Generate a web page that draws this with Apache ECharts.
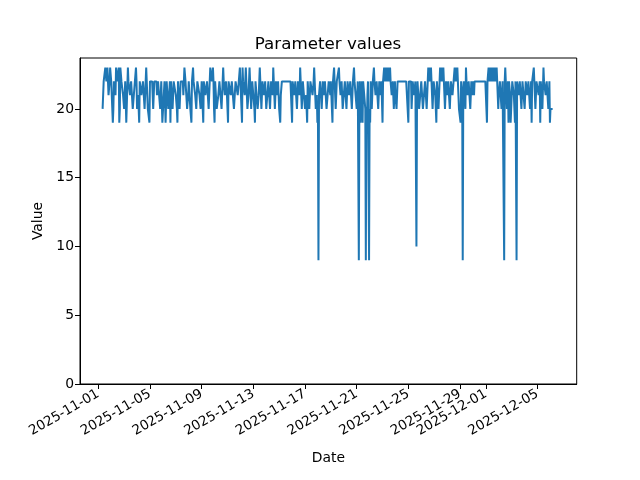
<!DOCTYPE html>
<html>
<head>
<meta charset="utf-8">
<script src="https://cdn.jsdelivr.net/npm/echarts@6/dist/echarts.min.js"></script>
<style>html,body{margin:0;padding:0;background:#fff}#c{width:640px;height:480px}</style>
</head>
<body>
<div id="c"></div>
<script>
// Series start and sampling step (hourly readings)
const startTime = new Date(2025, 10, 1, 8, 0, 0).getTime();
const stepHours = 1;

// Hourly values per day (day00 starts 08:00, day35 ends 05:00)
const day00 = [20,20,22,22,22,23,23,22,22,23,23,21,21,22,23,23];
const day01 = [22,22,20,19,20,22,22,22,21,23,23,23,22,22,23,19,20,23,23,22,22,22,21,21];
const day02 = [20,20,22,22,19,19,19,23,22,22,22,21,21,22,22,22,20,20,21,21,22,22,23,22];
const day03 = [20,20,21,21,19,22,22,22,21,21,21,22,22,22,20,20,22,23,22,22,20,20,20,19];
const day04 = [22,22,22,22,22,22,20,20,22,22,22,22,22,21,21,22,22,22,22,20,20,22,22,19];
const day05 = [19,19,19,22,22,19,19,22,22,22,20,20,20,22,19,22,22,22,20,20,22,22,22,22];
const day06 = [21,21,20,19,22,22,22,20,20,22,22,22,22,22,21,21,23,23,22,22,22,20,20,21];
const day07 = [22,22,22,20,20,19,22,22,23,22,22,22,21,21,20,20,22,22,22,22,21,21,20,20];
const day08 = [22,22,20,19,22,22,22,21,21,21,22,22,22,20,20,22,23,23,23,22,22,23,22,20];
const day09 = [19,22,22,22,20,20,20,21,21,22,22,22,22,20,20,20,23,22,22,21,21,22,22,21];
const day10 = [20,19,22,22,22,22,21,21,22,22,22,22,20,20,20,22,22,22,22,21,21,22,22,23];
const day11 = [22,22,20,19,23,22,22,22,21,21,23,22,22,20,20,21,22,23,22,22,20,20,22,22];
const day12 = [21,21,20,19,22,22,22,22,20,20,21,22,23,22,22,20,20,22,22,22,21,21,22,22];
const day13 = [20,20,21,21,22,22,22,20,20,22,22,22,21,23,22,22,20,20,22,22,21,21,22,22];
const day14 = [20,20,19,21,21,22,22,22,22,22,22,22,22,22,22,22,22,22,22,22,22,22,22,20];
const day15 = [19,22,22,22,21,21,22,22,22,20,20,22,22,22,21,23,22,22,20,20,22,22,22,22];
const day16 = [20,20,21,21,19,22,22,22,20,20,22,22,22,22,21,21,22,23,22,22,20,20,21,19];
const day17 = [20,9,21,21,22,22,22,20,20,22,22,21,21,22,22,22,20,20,21,21,22,22,22,21];
const day18 = [22,22,20,19,22,22,23,22,22,20,20,22,22,22,22,23,22,22,21,21,22,22,20,20];
const day19 = [21,21,22,22,22,20,20,22,22,22,21,21,22,22,22,20,20,22,22,23,22,22,21,21];
const day20 = [20,20,22,22,9,20,22,19,20,20,22,19,22,22,21,21,20,9,20,19,21,22,22,9];
const day21 = [20,19,22,22,20,20,22,22,23,22,22,21,21,22,22,22,20,20,22,22,21,21,22,22];
const day22 = [19,22,22,23,22,23,22,22,23,22,22,23,22,22,23,22,22,21,21,22,22,20,20,22];
const day23 = [21,21,20,20,22,22,22,22,22,22,22,22,22,22,22,22,22,22,22,22,22,22,22,22];
const day24 = [19,22,22,22,22,22,20,20,22,22,22,21,21,22,22,10,20,22,22,22,20,20,21,21];
const day25 = [22,22,22,20,20,21,21,22,22,22,20,20,22,23,22,23,22,22,23,22,22,20,20,22];
const day26 = [22,22,21,21,19,22,22,22,20,20,22,23,22,22,23,22,22,23,22,22,20,20,22,22];
const day27 = [21,21,22,22,22,20,20,22,22,22,21,21,22,22,23,22,23,22,22,23,22,22,20,20];
const day28 = [20,19,22,22,21,9,21,22,22,22,20,23,22,22,21,21,22,22,22,20,20,22,22,21];
const day29 = [22,22,21,22,22,22,22,22,22,22,22,22,22,22,22,22,22,22,22,22,22,22,22,22];
const day30 = [22,22,19,22,22,23,22,23,23,22,23,23,22,23,22,23,23,22,23,22,23,22,22,20];
const day31 = [21,21,22,22,22,20,20,22,22,22,9,22,23,22,22,20,20,22,19,22,22,21,19,19];
const day32 = [19,22,22,22,21,21,19,22,22,9,22,22,22,21,21,22,22,22,20,20,22,22,21,21];
const day33 = [20,20,22,22,22,21,21,22,22,22,20,20,22,19,22,22,22,23,22,22,20,20,22,22];
const day34 = [22,22,21,21,22,19,22,22,22,20,20,23,22,22,22,21,21,22,22,22,20,20,22,19];
const day35 = [20,20,20,20,20,20];

const values = [].concat(day00,day01,day02,day03,day04,day05,day06,day07,day08,day09,
  day10,day11,day12,day13,day14,day15,day16,day17,day18,day19,day20,day21,day22,day23,
  day24,day25,day26,day27,day28,day29,day30,day31,day32,day33,day34,day35);

// Tick labels
const xTickLabels = ['2025-11-01','2025-11-05','2025-11-09','2025-11-13','2025-11-17',
  '2025-11-21','2025-11-25','2025-11-29','2025-12-01','2025-12-05'];
const yTicks = [0,5,10,15,20];

function parseDay(s){const p=s.split('-').map(Number);return new Date(p[0],p[1]-1,p[2]).getTime();}
const xTicks = xTickLabels.map(parseDay);
const DAY = 86400000;
const origin = parseDay('2025-11-01');
const xMin = origin - 1.416*DAY;
const xMax = origin + 37.03*DAY;

const data = values.map((v,i)=>[startTime + i*stepHours*3600000, v]);

function fmt(t){const d=new Date(t);const m=d.getMonth()+1, dd=d.getDate();
  return d.getFullYear()+'-'+(m<10?'0':'')+m+'-'+(dd<10?'0':'')+dd;}

const font = 'DejaVu Sans';
const chart = echarts.init(document.getElementById('c'), null, {renderer:'canvas'});
chart.setOption({
  animation:false,
  backgroundColor:'#fff',
  title:{text:'Parameter values', left:323, top:31, textAlign:'center',
    textStyle:{fontFamily:font, fontSize:16.7, fontWeight:'normal', color:'#000'}},
  grid:{left:80, right:63.3, top:58, bottom:96, show:true, borderColor:'#000', borderWidth:1, backgroundColor:'transparent'},
  xAxis:{type:'value', min:xMin, max:xMax, scale:true,
    name:'Date', nameLocation:'middle', nameGap:67,
    nameTextStyle:{fontFamily:font, fontSize:13.9, color:'#000'},
    axisLine:{show:true, lineStyle:{color:'#000', width:1}},
    axisTick:{show:true, inside:false, length:5, lineStyle:{color:'#000'}, customValues:xTicks},
    axisLabel:{customValues:xTicks, rotate:30, formatter:fmt, fontFamily:font, fontSize:13.5, color:'#000', margin:9},
    splitLine:{show:false}},
  yAxis:{type:'value', min:0, max:23.7,
    name:'Value', nameLocation:'middle', nameGap:35,
    nameTextStyle:{fontFamily:font, fontSize:13.9, color:'#000'},
    axisLine:{show:true, lineStyle:{color:'#000', width:1}},
    axisTick:{show:true, inside:false, length:5, lineStyle:{color:'#000'}, customValues:yTicks},
    axisLabel:{customValues:yTicks, fontFamily:font, fontSize:13.9, color:'#000', margin:6},
    splitLine:{show:false}},
  series:[{type:'line', data:data, showSymbol:false, symbol:'none',
    lineStyle:{color:'#1f77b4', width:2}, itemStyle:{color:'#1f77b4'}}]
});
</script>
</body>
</html>
